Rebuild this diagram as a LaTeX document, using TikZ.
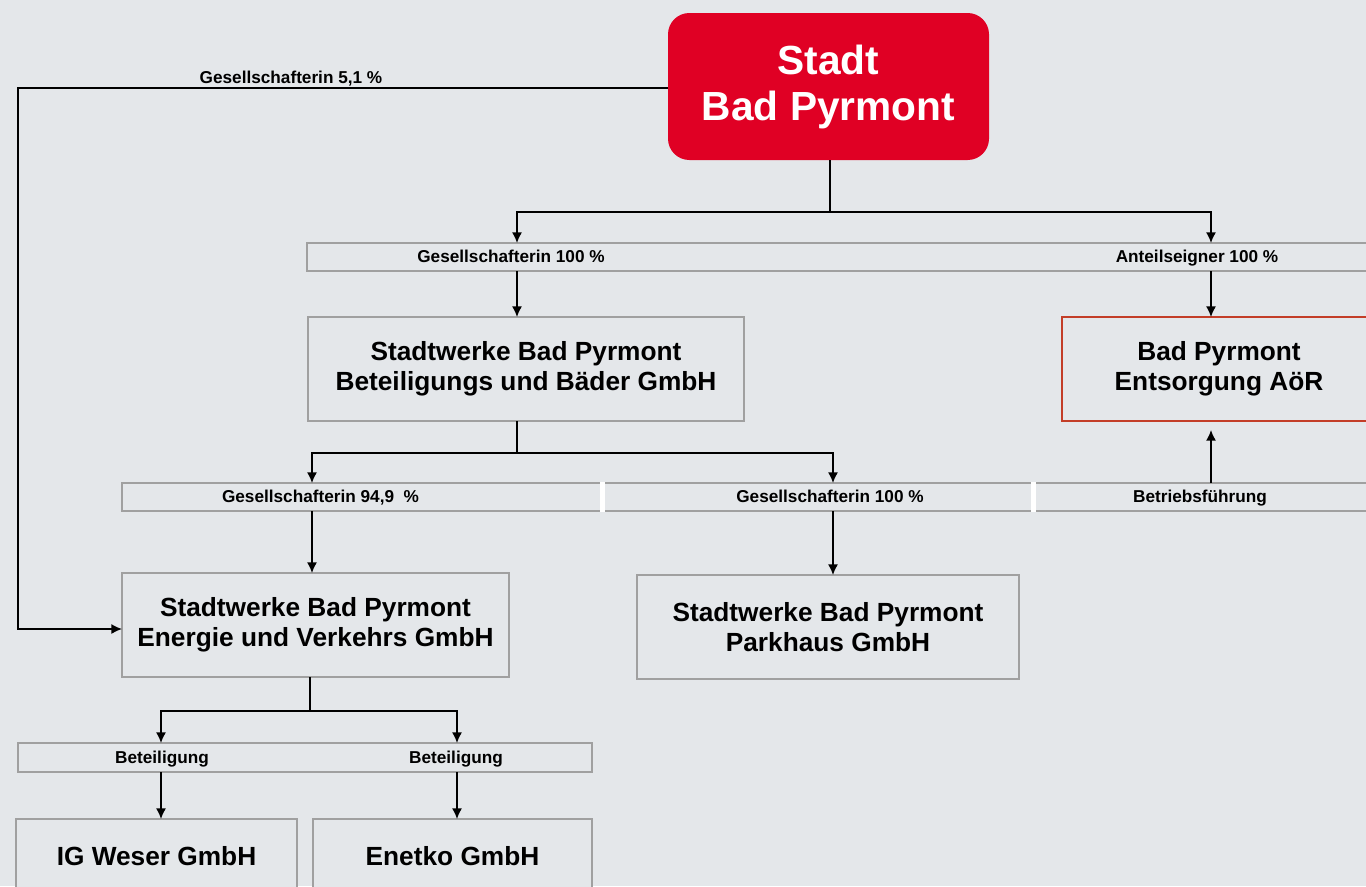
\documentclass[tikz,border=0pt]{standalone}
\usepackage{fontspec}
\setmainfont{Liberation Sans}
\usetikzlibrary{arrows.meta}
\definecolor{bg}{RGB}{228,231,234}
\definecolor{redfill}{RGB}{224,0,36}
\definecolor{boxline}{RGB}{160,160,160}
\definecolor{redline}{RGB}{195,62,40}
\def\pxu{0.75pt}
\begin{document}
\begin{tikzpicture}[x=0.75pt,y=-0.75pt,
  box/.style={draw=boxline,line width=1.2pt,fill=bg,inner sep=0pt,outer sep=0pt,align=center,
    font=\fontsize{19.7}{22.5}\selectfont\bfseries},
  bar/.style={draw=boxline,line width=1.1pt,fill=bg,inner sep=0pt,outer sep=0pt},
  sep/.style={fill=white,inner sep=0pt,outer sep=0pt,minimum width=5*\pxu,minimum height=30*\pxu},
  lbl/.style={font=\fontsize{12.9}{15}\selectfont\bfseries,inner sep=0pt,anchor=base},
  arr/.style={-{Latex[length=8pt,width=7.5pt]},line width=1.1pt},
  ln/.style={line width=1.1pt}]
\useasboundingbox (0,0) rectangle (1366,886);
\fill[bg] (0,0) rectangle (1366,886);
\clip (0,0) rectangle (1366,886);

% coordinates
\coordinate (j1) at (830,212);
\coordinate (a1) at (517,243);
\coordinate (a2) at (1211,243);
\coordinate (j2) at (517,453);
\coordinate (b1) at (312,483);
\coordinate (b2) at (833,483);
\coordinate (e1) at (1211,430);
\coordinate (k1) at (18,88);
\coordinate (k2) at (0,629);
\coordinate (c0) at (310,711);
\coordinate (c1) at (161,743);
\coordinate (c2) at (457,743);

% main nodes
\node[fill=redfill,rounded corners=16pt,inner sep=0pt,outer sep=0pt,minimum width=321*\pxu,minimum height=147*\pxu,
  text=white,align=center,font=\fontsize{30.5}{34.5}\selectfont\bfseries] (stadt) at (828.5,86.5) {Stadt\\Bad Pyrmont};

\node[bar,minimum width=1073*\pxu,minimum height=28*\pxu] (bar1) at (843.5,257) {};
\node[bar,minimum width=1258*\pxu,minimum height=28*\pxu] (bar2) at (751,497) {};
\node[bar,minimum width=574*\pxu,minimum height=29*\pxu] (bar3) at (305,757.5) {};
\node[sep] (s1) at (602.5,497) {};
\node[sep] (s2) at (1033.5,497) {};

\node[box,minimum width=436*\pxu,minimum height=104*\pxu] (sbb) at (526,369) {Stadtwerke Bad Pyrmont\\Beteiligungs und Bäder GmbH};
\node[box,draw=redline,minimum width=314*\pxu,minimum height=104*\pxu] (ent) at (1219,369) {Bad Pyrmont\\Entsorgung AöR};
\node[box,minimum width=387*\pxu,minimum height=104*\pxu] (evg) at (315.5,625) {Stadtwerke Bad Pyrmont\\Energie und Verkehrs GmbH};
\node[box,minimum width=382*\pxu,minimum height=104*\pxu] (park) at (828,627) {Stadtwerke Bad Pyrmont\\Parkhaus GmbH};
\node[box,minimum width=281*\pxu,minimum height=74*\pxu] (igw) at (156.5,856) {IG Weser GmbH};
\node[box,minimum width=279*\pxu,minimum height=74*\pxu] (ene) at (452.5,856) {Enetko GmbH};

% labels
\node[lbl] (l0) at (291,83) {Gesellschafterin 5,1 \%};
\node[lbl] (l1) at (511,262) {Gesellschafterin 100 \%};
\node[lbl] (l2) at (1197,262) {Anteilseigner 100 \%};
\node[lbl] (l3) at (320.5,502.5) {Gesellschafterin 94,9\ \ \%};
\node[lbl] (l4) at (830,502.5) {Gesellschafterin 100 \%};
\node[lbl] (l5) at (1200,502) {Betriebsführung};
\node[lbl] (l6) at (162,763) {Beteiligung};
\node[lbl] (l7) at (456,763) {Beteiligung};

% connectors
\draw[ln] (stadt.south -| j1) -- (j1);
\draw[arr] (j1) -| (a1);
\draw[arr] (j1) -| (a2);
\draw[arr] (bar1.south -| a1) -- (sbb.north -| a1);
\draw[arr] (bar1.south -| a2) -- (ent.north -| a2);
\draw[ln] (sbb.south -| j2) -- (j2);
\draw[arr] (j2) -| (b1);
\draw[arr] (j2) -| (b2);
\draw[arr] (bar2.south -| b1) -- (evg.north -| b1);
\draw[arr] (bar2.south -| b2) -- (park.north -| b2);
\draw[arr] (bar2.north -| e1) -- (e1);
\draw[arr] (stadt.west |- k1) -- (k1) |- (evg.west |- k2);
\draw[ln] (evg.south -| c0) -- (c0);
\draw[arr] (c0) -| (c1);
\draw[arr] (c0) -| (c2);
\draw[arr] (bar3.south -| c1) -- (igw.north -| c1);
\draw[arr] (bar3.south -| c2) -- (ene.north -| c2);
\end{tikzpicture}
\end{document}
